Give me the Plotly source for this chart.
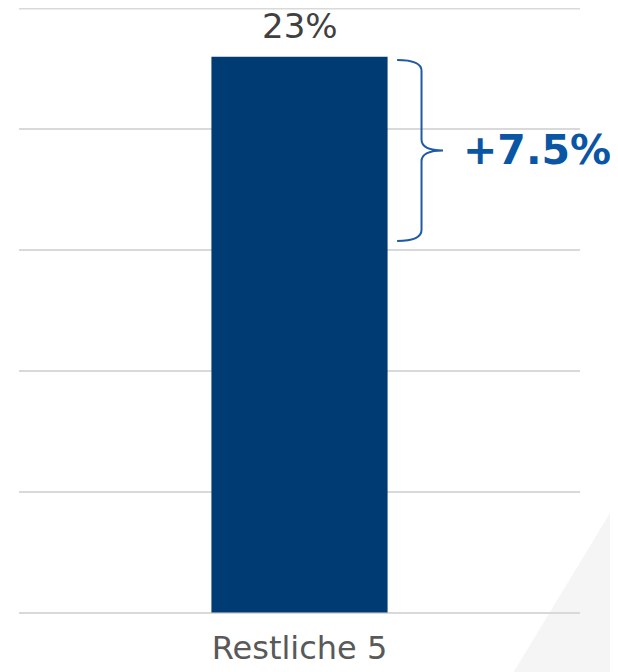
import plotly.graph_objects as go

categories = ["Restliche 5"]
values = [23]
value_labels = ["23%"]
bracket_low = 15.5
bracket_high = 23
delta_label = "+7.5%"
y_ticks = [0, 5, 10, 15, 20, 25]

fig = go.Figure()
fig.add_trace(go.Bar(
    x=categories, y=values,
    marker=dict(color="#003b73", line=dict(width=0)), width=0.314,
    cliponaxis=False,
))
for cat, v, lab in zip(categories, values, value_labels):
    fig.add_annotation(x=cat, y=v, xref="x", yref="y", text=lab, showarrow=False,
                       yanchor="bottom", yshift=14, height=30, valign="middle",
                       font=dict(family="DejaVu Sans", size=34, color="#404040"))

# top gridline (plotly drops grid lines sitting on the plot edge)
fig.add_shape(type="line", xref="paper", yref="y", x0=0, x1=1,
              y0=y_ticks[-1], y1=y_ticks[-1], layer="below",
              line=dict(color="#d9d9d9", width=2))

# bracket (x in data coords relative to single category at 0)
x0, x1, xt = 0.174, 0.2175, 0.2558
yt, yb = bracket_high - 0.13, bracket_low - 0.12
ym = (yt + yb) / 2
c = 0.45
path = (f"M {x0},{yt} Q {x1},{yt} {x1},{yt - c} "
        f"L {x1},{ym + c} Q {x1},{ym} {xt},{ym} "
        f"Q {x1},{ym} {x1},{ym - c} "
        f"L {x1},{yb + c} Q {x1},{yb} {x0},{yb}")
fig.add_shape(type="path", path=path, xref="x", yref="y",
              line=dict(color="#1f5aa6", width=2))
fig.add_annotation(x=0.2875, y=ym, xref="x", yref="y", text=f"<b>{delta_label}</b>",
                   showarrow=False, xanchor="left", yanchor="middle",
                   font=dict(family="DejaVu Sans", size=41, color="#0a56a4"))

# decorative background triangle
fig.add_shape(type="path", xref="paper", yref="paper", layer="below",
              path="M 0.8643,-0.1203 L 1.082,0.2116 L 1.082,-0.1203 Z",
              fillcolor="#f5f5f5", line=dict(width=0))

fig.update_layout(
    width=618, height=672,
    margin=dict(l=11, r=46, t=0, b=65, autoexpand=False),
    paper_bgcolor="white", plot_bgcolor="rgba(0,0,0,0)",
    showlegend=False,
    xaxis=dict(range=[-0.5, 0.5], showgrid=False, zeroline=False, showline=False,
               automargin=False, ticks="", ticklabelstandoff=11,
               tickfont=dict(family="DejaVu Sans", size=32, color="#595959")),
    yaxis=dict(range=[-0.1, 25.02], tickvals=y_ticks, showticklabels=False,
               automargin=False,
               showgrid=True, gridcolor="#d9d9d9", gridwidth=2, zeroline=False),
)
fig.write_html("out.html")
